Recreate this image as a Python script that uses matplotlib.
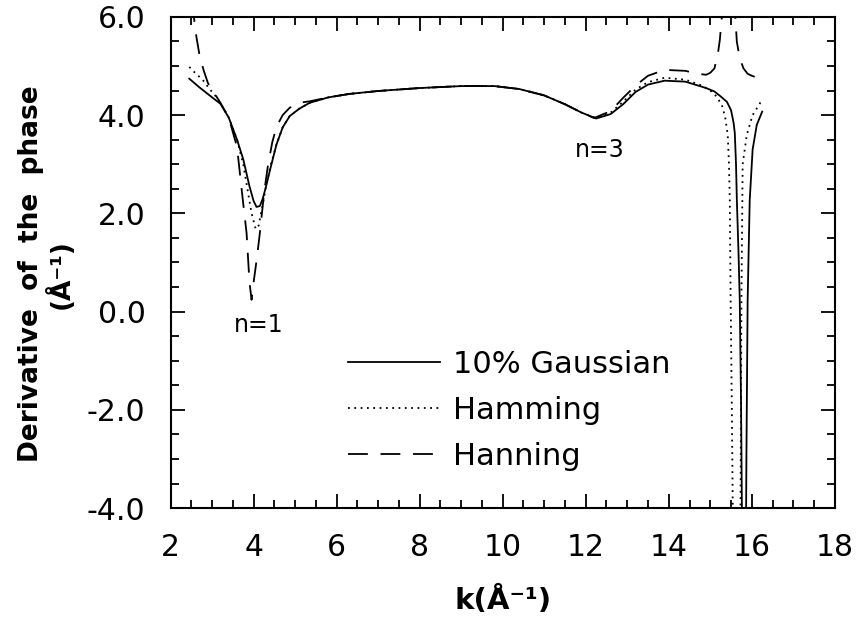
"""
相位导数曲线：三种窗函数对比
"""
import matplotlib
matplotlib.use('Agg')
import matplotlib.pyplot as plt
from matplotlib.ticker import MultipleLocator, FormatStrFormatter

plt.rcParams['font.family'] = ['DejaVu Sans']
plt.rcParams['axes.unicode_minus'] = False

# 10% Gaussian（实线），极点两侧分成两段
gauss_k = [2.45, 2.7, 3.0, 3.2, 3.4, 3.6, 3.75, 3.9, 4.0, 4.07, 4.15, 4.22, 4.3, 4.4,
           4.55, 4.7, 4.87, 5.1, 5.35, 5.8, 6.3, 7.0, 8.0, 9.0, 9.8, 10.4, 11.0, 11.5,
           11.9, 12.25, 12.6, 12.9, 13.2, 13.5, 13.9, 14.4, 14.9, 15.1, 15.25, 15.4,
           15.5, 15.56, 15.59, 15.62, 15.64, 15.68, 15.71, 15.74, 15.76, 15.78]
gauss_v = [4.74, 4.56, 4.36, 4.23, 3.95, 3.5, 3.1, 2.55, 2.25, 2.13, 2.15, 2.3, 2.55, 2.9,
           3.4, 3.75, 3.98, 4.13, 4.25, 4.36, 4.43, 4.49, 4.55, 4.59, 4.59, 4.53, 4.4, 4.22,
           4.05, 3.93, 4.02, 4.22, 4.47, 4.62, 4.70, 4.68, 4.55, 4.48, 4.38, 4.27,
           4.1, 3.85, 3.64, 3.0, 2.27, 1.2, 0.24, -1.8, -3.84, -6.0]
gauss_k2 = [15.85, 15.87, 15.9, 15.95, 16.02, 16.12, 16.25]
gauss_v2 = [-6.0, -3.0, 0.24, 2.27, 3.3, 3.8, 4.07]

# Hamming（点线）
hamm_k = [2.45, 2.6, 2.77, 2.95, 3.1, 3.2, 3.4, 3.6, 3.75, 3.85, 3.95, 4.05, 4.12, 4.2,
          4.3, 4.4, 4.55, 4.7, 4.87, 5.1, 5.35, 5.8, 6.3, 7.0, 8.0, 9.0, 9.8, 10.4, 11.0,
          11.5, 11.9, 12.25, 12.6, 12.9, 13.2, 13.5, 13.9, 14.4, 14.8, 15.0, 15.15,
          15.28, 15.36, 15.42, 15.45, 15.47, 15.49, 15.52, 15.54, 15.56]
hamm_v = [4.98, 4.85, 4.72, 4.52, 4.37, 4.24, 3.95, 3.5, 3.0, 2.5, 2.0, 1.68, 1.75, 2.1,
          2.55, 2.95, 3.4, 3.75, 3.98, 4.13, 4.25, 4.36, 4.43, 4.49, 4.55, 4.59, 4.59, 4.53, 4.4,
          4.22, 4.05, 3.94, 4.05, 4.27, 4.52, 4.67, 4.76, 4.72, 4.6, 4.5, 4.38,
          4.2, 3.95, 3.6, 3.0, 2.27, 0.24, -2.0, -3.84, -6.0]
hamm_k2 = [15.71, 15.73, 15.75, 15.78, 15.88, 16.02, 16.24]
hamm_v2 = [-6.0, -3.84, 0.24, 3.0, 3.6, 4.0, 4.3]

# Hanning（虚线），极点处向上发散
hann_k = [2.52, 2.56, 2.62, 2.7, 2.8, 2.9, 3.05, 3.2, 3.4, 3.6, 3.74, 3.83, 3.9, 3.95,
          4.0, 4.08, 4.15, 4.25, 4.34, 4.45, 4.55, 4.7, 4.87, 5.1, 5.35, 5.8, 6.3, 7.0,
          8.0, 9.0, 9.8, 10.4, 11.0, 11.5, 11.9, 12.2, 12.6, 12.9, 13.2, 13.5, 13.9,
          14.4, 14.7, 14.9, 15.0, 15.1, 15.18, 15.23, 15.3, 15.38]
hann_v = [6.3, 6.0, 5.6, 5.2, 4.9, 4.65, 4.45, 4.25, 3.95, 3.35, 2.27, 1.6, 0.6, 0.24,
          0.6, 1.1, 1.6, 2.4, 2.95, 3.45, 3.76, 4.0, 4.15, 4.25, 4.28, 4.36, 4.43, 4.49,
          4.55, 4.59, 4.59, 4.53, 4.4, 4.22, 4.05, 3.94, 4.08, 4.35, 4.6, 4.8, 4.92,
          4.9, 4.84, 4.82, 4.86, 4.95, 5.23, 5.53, 6.2, 7.5]
hann_k2 = [15.5, 15.58, 15.64, 15.71, 15.8, 15.9, 16.0, 16.1, 16.27]
hann_v2 = [7.5, 6.3, 5.49, 5.16, 4.95, 4.84, 4.8, 4.77, 4.77]

labels = ['10% Gaussian', 'Hamming', 'Hanning']

fig = plt.figure(figsize=(8.66, 6.22), dpi=100)
ax = fig.add_axes([0.197, 0.183, 0.767, 0.790])

lw = 1.3
solid, = ax.plot(gauss_k, gauss_v, color='black', lw=lw, label=labels[0])
ax.plot(gauss_k2, gauss_v2, color='black', lw=lw)
dotted, = ax.plot(hamm_k, hamm_v, color='black', lw=lw, dashes=(1, 2.5), label=labels[1])
ax.plot(hamm_k2, hamm_v2, color='black', lw=lw, dashes=(1, 2.5))
dashed, = ax.plot(hann_k, hann_v, color='black', lw=lw, dashes=(11, 7), label=labels[2])
ax.plot(hann_k2, hann_v2, color='black', lw=lw, dashes=(11, 7))

ax.set_xlim(2, 18)
ax.set_ylim(-4, 6)
ax.xaxis.set_major_locator(MultipleLocator(2))
ax.xaxis.set_minor_locator(MultipleLocator(0.5))
ax.yaxis.set_major_locator(MultipleLocator(2))
ax.yaxis.set_minor_locator(MultipleLocator(0.5))
ax.yaxis.set_major_formatter(FormatStrFormatter('%.1f'))

for s in ax.spines.values():
    s.set_linewidth(1.5)
ax.tick_params(which='both', direction='in', top=True, right=True, width=1.3)
ax.tick_params(which='major', length=10, labelsize=21.5)
ax.tick_params(which='minor', length=6)
ax.tick_params(axis='x', which='major', pad=18)
ax.tick_params(axis='y', which='major', pad=18)

ax.set_xlabel('k(Å⁻¹)', fontsize=21, fontweight='bold', labelpad=17)
ax.set_ylabel('Derivative  of  the  phase\n(Å⁻¹)', fontsize=19, fontweight='bold',
              linespacing=1.05)
ax.yaxis.set_label_coords(-0.145, 0.477)

ax.text(4.13, -0.27, 'n=1', fontsize=17, ha='center', va='center')
ax.text(12.34, 3.29, 'n=3', fontsize=17, ha='center', va='center')

ax.legend(handles=[solid, dotted, dashed], loc='upper left',
          bbox_to_anchor=(0.267, 0.322), frameon=False, fontsize=22,
          handlelength=3.0, handletextpad=0.45, labelspacing=0.55,
          borderpad=0, borderaxespad=0)

fig.savefig('out.png', dpi=100)
